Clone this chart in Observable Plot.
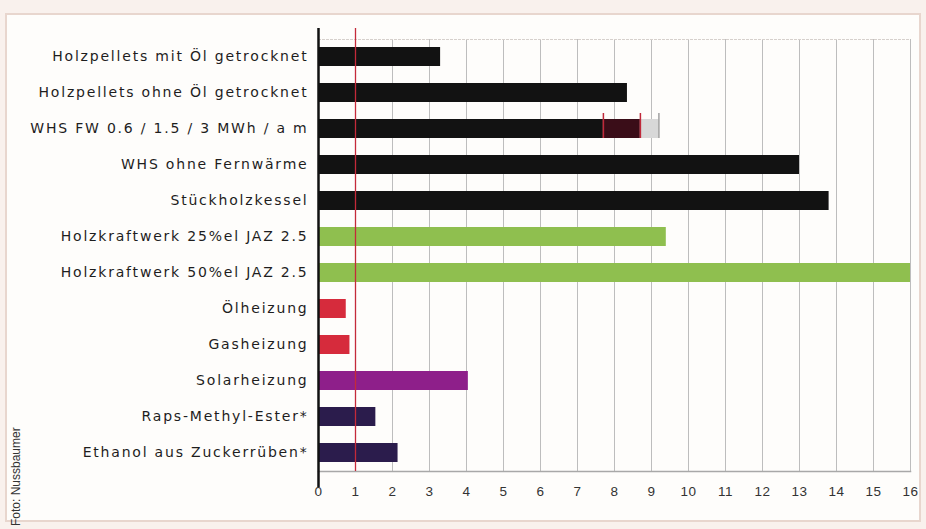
<!DOCTYPE html>
<html><head><meta charset="utf-8">
<script src="https://cdn.jsdelivr.net/npm/d3@7"></script>
<script src="https://cdn.jsdelivr.net/npm/@observablehq/plot@0.6"></script>
<style>
html,body{margin:0;padding:0;background:#f9f1ed;}
#wrap{position:relative;width:926px;height:529px;overflow:hidden;}
#box{position:absolute;left:5px;top:13px;width:912px;height:505px;background:#fefdfb;border:2px solid #e8d6ce;}
#chart{position:absolute;left:0;top:0;}
#credit{position:absolute;left:9px;top:526px;transform-origin:0 0;transform:rotate(-90deg);font:12px "Liberation Sans",Arial,sans-serif;color:#333;white-space:nowrap;}
.ylab text{letter-spacing:1.8px;}
.xlab text{letter-spacing:0.5px;}
</style></head>
<body>
<div id="wrap"><div id="box"></div><div id="chart"></div><div id="credit">Foto: Nussbaumer</div></div>
<script>
const categories = [
  "Holzpellets mit Öl getrocknet",
  "Holzpellets ohne Öl getrocknet",
  "WHS FW 0.6 / 1.5 / 3 MWh / a m",
  "WHS ohne Fernwärme",
  "Stückholzkessel",
  "Holzkraftwerk 25%el JAZ 2.5",
  "Holzkraftwerk 50%el JAZ 2.5",
  "Ölheizung",
  "Gasheizung",
  "Solarheizung",
  "Raps-Methyl-Ester*",
  "Ethanol aus Zuckerrüben*"
];
const values = [3.3, 8.35, 7.7, 13.0, 13.8, 9.4, 16, 0.75, 0.85, 4.05, 1.55, 2.15];
const groups = ["holz","holz","holz","holz","holz","kraft","kraft","fossil","fossil","solar","bio","bio"];
const groupNames = ["holz","kraft","fossil","solar","bio"];
const groupColors = ["#121212","#8fbf4f","#d62b3c","#8e1f8a","#2b1c4c"];
// WHS variants: 0.6 / 1.5 / 3 MWh/a m
const whsCategory = "WHS FW 0.6 / 1.5 / 3 MWh / a m";
const whsStarts = [0, 7.7, 8.7];
const whsEnds = [7.7, 8.7, 9.2];
const whsColors = ["#121212","#3a0d18","#d8d8d8"];
const whsTickColors = ["#c0283a","#c0283a","#a0a0a0"];
const xTicks = d3.range(0, 17);
const refLine = [1];

const bars = categories.map((c,i)=>({cat:c, v:values[i], g:groups[i]}));
const whs = whsStarts.map((s,i)=>({cat:whsCategory, x1:s, x2:whsEnds[i], c:whsColors[i], t:whsTickColors[i]}));

const plot = Plot.plot({
  width: 926, height: 529,
  marginLeft: 318, marginRight: 16, marginTop: 39, marginBottom: 58,
  style: {background:"transparent", fontFamily:"'Liberation Sans', Arial, sans-serif", fontSize:"13px", color:"#222"},
  x: {domain:[0,16], ticks: xTicks, label:null, tickSize:0, tickPadding:15},
  y: {domain: categories, label:null, tickSize:0, tickPadding:10, paddingInner:0.47, paddingOuter:0.235},
  color: {domain: groupNames, range: groupColors},
  marks: [
    Plot.gridX(xTicks, {stroke:"#bdbdbd", strokeOpacity:1, strokeWidth:1}),
    Plot.frame({anchor:"top", stroke:"#d6d0cc", strokeDasharray:"2,2"}),
    Plot.frame({anchor:"bottom", stroke:"#a8a8a8", strokeWidth:1.5}),
    Plot.barX(bars.filter(d=>d.cat!==whsCategory), {x:"v", y:"cat", fill:"g"}),
    Plot.barX(whs, {x1:"x1", x2:"x2", y:"cat", fill:"c"}),
    Plot.tickX(whs, {x:"x2", y:"cat", stroke:"t", strokeWidth:1.5, insetTop:-6}),
    Plot.ruleX(refLine, {stroke:"#c42a3a", strokeWidth:1.3, insetTop:-11}),
    Plot.ruleX([0], {stroke:"#111", strokeWidth:2.5, insetTop:-11, insetBottom:-16}),
    Plot.axisX({ticks:xTicks, tickSize:0, tickPadding:15, fontSize:13.5, fill:"#333", className:"xlab"}),
    Plot.axisY({tickSize:0, tickPadding:10, fontSize:14, fontFamily:"'DejaVu Sans', sans-serif", fill:"#1e1e1e", className:"ylab"})
  ]
});
document.getElementById("chart").appendChild(plot);
</script>
</body></html>
